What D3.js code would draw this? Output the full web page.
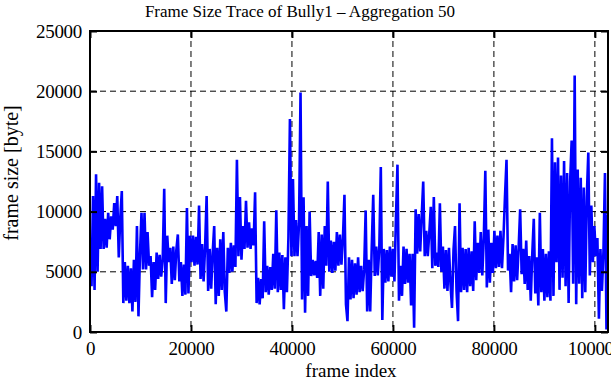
<!DOCTYPE html>
<html><head><meta charset="utf-8">
<script src="https://cdn.jsdelivr.net/npm/d3@7"></script>
<style>body{margin:0;background:#fff}svg{display:block}text{font-family:"Liberation Serif","Times New Roman",serif;fill:#000}</style>
</head><body>
<svg id="c" width="611" height="380"></svg>
<script>
const title = "Frame Size Trace of Bully1 \u2013 Aggregation 50";
const xLabel = "frame index";
const yLabel = "frame size [byte]";
const xTicks = [0, 20000, 40000, 60000, 80000, 100000];
const yTicks = [0, 5000, 10000, 15000, 20000, 25000];
const frameStep = 300;
const frameSizes = [
7700,3800,11300,3500,13100,5000,12400,6900,12100,6900,
9400,7000,9900,7700,9600,8500,10700,8800,11300,6200,
9500,11700,2400,5800,2600,5500,2400,5300,1700,6000,
2500,8800,1300,6500,9900,5200,9900,5200,8300,5500,
6300,2900,5800,3500,6600,4400,6400,4600,6000,11900,
2400,8000,5800,7000,4000,7100,4300,6800,8100,4200,
5800,3000,5600,3100,10300,3200,8000,5800,8000,5500,
7900,5600,10500,4400,7300,4200,7100,11300,3400,6900,
3600,6600,8800,2300,7000,3000,7700,3500,8300,3300,
1700,7000,4900,7400,5000,7200,5400,14300,6300,11200,
6000,8800,6900,10900,7000,9100,6900,8600,7200,11600,
2400,4500,2300,4400,2800,9200,3300,5500,3100,5400,
3500,6500,3600,10100,3300,6600,3500,6400,1900,6200,
3300,7800,17700,6300,12700,6300,9300,6300,9000,19900,
2700,11200,1600,8800,3000,10000,4650,6000,4700,5900,
4500,8300,3000,8100,3600,8800,5500,12500,5000,7600,
4900,7500,5100,8300,5500,8100,5600,7800,11400,2300,
900,6200,2700,6000,2800,5700,3100,6200,3300,5500,
3400,5200,10100,1700,6000,1700,7000,11400,4650,7100,
4700,7000,13700,1000,6900,4100,6800,4200,7100,4600,
6900,4200,9500,13900,2600,5500,3000,7100,4000,6900,
4100,6500,2200,6500,360,10200,6500,9800,6700,9600,
12500,6300,8400,6300,8200,10400,5300,11200,5500,6600,
5400,10700,5000,7100,3600,6800,3400,7000,4000,2000,
6800,8800,3400,900,10700,3300,7000,3500,6900,3300,
7000,3800,6700,3400,9200,4300,7400,4900,8300,4700,
7800,13400,3700,8500,4100,7400,4900,8400,5300,8000,
5400,8400,5300,7900,11300,14300,5100,6500,3300,7300,
4200,7200,4300,7000,10200,4800,6900,4000,7600,3500,
6300,2600,6500,9400,3200,6200,2200,9900,3300,6900,
2600,6500,2900,6700,2600,16100,3000,14100,5800,14500,
3500,13000,4500,14200,3800,13200,2400,12500,15900,4000,
21300,2300,13500,4000,12800,2800,12000,3300,11200,14900,
4700,10500,5800,8800,6300,7800,1100,6900,3400,6700,
13200,200,10000
];
const frameIndex = frameSizes.map((_, i) => i * frameStep);
const xMax = 102600, yMax = 25000;

const svg = d3.select("#c");
const m = {l: 90, r: 608, t: 31, b: 332};
const x = d3.scaleLinear().domain([0, xMax]).range([m.l, m.r]);
const y = d3.scaleLinear().domain([0, yMax]).range([m.b, m.t]);

svg.append("clipPath").attr("id","clip").append("rect")
  .attr("x", m.l).attr("y", m.t).attr("width", m.r - m.l).attr("height", m.b - m.t);

const g = svg.append("g");
g.selectAll(".gx").data(xTicks.filter(d => d > 0)).join("line")
  .attr("x1", d => x(d)).attr("x2", d => x(d)).attr("y1", m.t).attr("y2", m.b)
  .attr("stroke", "#000").attr("stroke-width", 1).attr("stroke-dasharray", "6,4");
g.selectAll(".gy").data(yTicks.filter(d => d > 0 && d < yMax)).join("line")
  .attr("x1", m.l).attr("x2", m.r).attr("y1", d => y(d)).attr("y2", d => y(d))
  .attr("stroke", "#000").attr("stroke-width", 1).attr("stroke-dasharray", "6,4");

const line = d3.line().x((d, i) => x(frameIndex[i])).y(d => y(d));
svg.append("path").datum(frameSizes).attr("clip-path", "url(#clip)")
  .attr("d", line).attr("fill", "none").attr("stroke", "#0000ff")
  .attr("stroke-width", 2.6).attr("stroke-linejoin", "bevel");

const tl = 7;
const axB = svg.append("g").attr("transform", `translate(0,${m.b})`)
  .call(d3.axisBottom(x).tickValues(xTicks).tickSizeInner(-tl).tickSizeOuter(0).tickPadding(10).tickFormat(d3.format("d")));
const axT = svg.append("g").attr("transform", `translate(0,${m.t})`)
  .call(d3.axisTop(x).tickValues(xTicks).tickSizeInner(-tl).tickSizeOuter(0).tickFormat(""));
const axL = svg.append("g").attr("transform", `translate(${m.l},0)`)
  .call(d3.axisLeft(y).tickValues(yTicks).tickSizeInner(-tl).tickSizeOuter(0).tickPadding(8).tickFormat(d3.format("d")));
const axR = svg.append("g").attr("transform", `translate(${m.r},0)`)
  .call(d3.axisRight(y).tickValues(yTicks).tickSizeInner(-tl).tickSizeOuter(0).tickFormat(""));
[axB, axT, axL, axR].forEach(a => {
  a.selectAll(".domain").remove();
  a.selectAll(".tick line").attr("stroke", "#000").attr("stroke-width", 2);
  a.selectAll("text").attr("font-size", 19).attr("font-family", "Liberation Serif").attr("fill", "#000")
    .attr("letter-spacing", "-0.3px");
});
axB.selectAll("text").attr("dy", "0.71em");
svg.append("rect").attr("x", m.l).attr("y", m.t).attr("width", m.r - m.l).attr("height", m.b - m.t)
  .attr("fill", "none").attr("stroke", "#000").attr("stroke-width", 2);

svg.append("text").attr("x", 300).attr("y", 17).attr("text-anchor", "middle")
  .attr("font-size", 17).text(title);
svg.append("text").attr("x", 351).attr("y", 377).attr("text-anchor", "middle")
  .attr("font-size", 19).text(xLabel);
svg.append("text").attr("transform", "translate(18,173) rotate(-90)").attr("text-anchor", "middle")
  .attr("font-size", 20).text(yLabel);
</script>
</body></html>
